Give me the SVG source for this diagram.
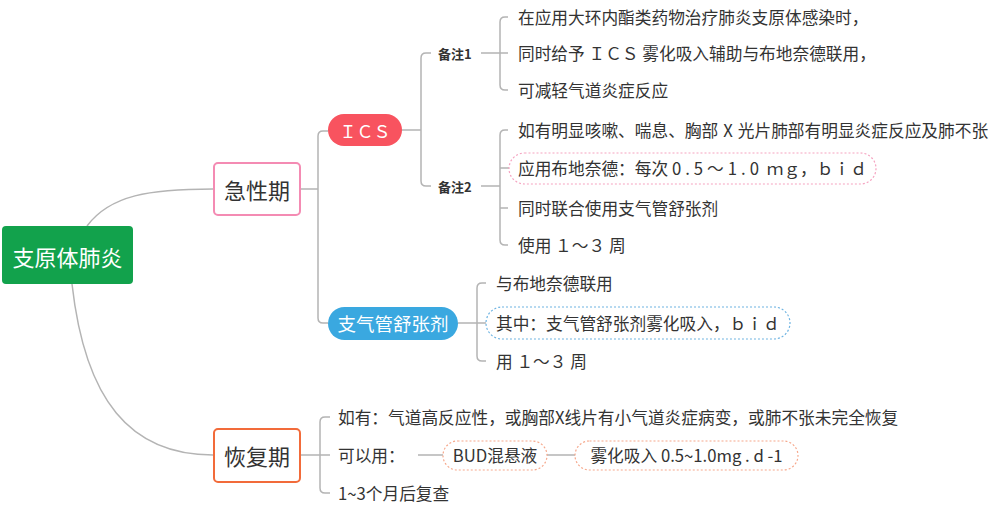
<svg xmlns="http://www.w3.org/2000/svg" width="1000" height="508" viewBox="0 0 1000 508">
<style>
text{font-family:"Noto Sans CJK SC","Microsoft YaHei",sans-serif;dominant-baseline:central}
.leaf{font-size:16.7px;fill:#333}
.note{font-size:13px;font-weight:bold;fill:#333}
.main{font-size:22px;fill:#333;text-anchor:middle}
.wh{fill:#fff;text-anchor:middle}
.ln{fill:none;stroke:#b4b4b4;stroke-width:1.5}
.dpk{fill:#fff;stroke:#f5a3c0;stroke-width:1.2;stroke-dasharray:2 2}
.dbl{fill:#fff;stroke:#6fb4e2;stroke-width:1.2;stroke-dasharray:2 2}
.dor{fill:#fff;stroke:#f6a88c;stroke-width:1.2;stroke-dasharray:2 2}
</style>
<rect width="1000" height="508" fill="#fff"/>
<g id="connectors" class="ln">
<path d="M87,226 C110,195 150,189 213,189"/>
<path d="M72,284 C85,400 130,455 213,455"/>
<path d="M300,189 H318 M328,131 H323 Q318,131 318,136 V318 Q318,323 323,323 H328"/>
<path d="M402,130 H421 M431,53 H426 Q421,53 421,58 V181 Q421,186 426,186 H431"/>
<path d="M481,53 H500 M508,17 H505 Q500,17 500,22 V85 Q500,90 505,90 H508 M500,53 H508"/>
<path d="M481,186 H500 M508,130 H505 Q500,130 500,135 V240 Q500,245 505,245 H508 M500,168 H509 M500,208 H508"/>
<path d="M458,323 H477 M486,283 H482 Q477,283 477,288 V356 Q477,361 482,361 H486 M477,323 H486"/>
<path d="M300,455 H320 M330,417 H325 Q320,417 320,422 V488 Q320,493 325,493 H330 M320,455 H330"/>
<path d="M418,455 H443 M547,455 H575"/>
</g>
<g id="root">
<rect x="2" y="226" width="131" height="58" rx="4" fill="#12a24c"/>
<text class="wh" x="67.5" y="256" font-size="22">支原体肺炎</text>
</g>
<g id="acute">
<rect x="214" y="163" width="86" height="52" rx="4" fill="#fff" stroke="#f48bb3" stroke-width="2"/>
<text class="main" x="257" y="189">急性期</text>
</g>
<g id="ics">
<rect x="328" y="114" width="74" height="32" rx="16" fill="#f8535f"/>
<text class="wh" x="365" y="130" font-size="17">ＩＣＳ</text>
</g>
<g id="note1">
<text class="note" x="438" y="53">备注1</text>
</g>
<g id="note1-items">
<text class="leaf" x="518" y="17">在应用大环内酯类药物治疗肺炎支原体感染时，</text>
<text class="leaf" x="518" y="53">同时给予 ＩＣＳ 雾化吸入辅助与布地奈德联用，</text>
<text class="leaf" x="518" y="90">可减轻气道炎症反应</text>
</g>
<g id="note2">
<text class="note" x="438" y="186">备注2</text>
</g>
<g id="note2-items">
<text class="leaf" x="518" y="130">如有明显咳嗽、喘息、胸部<tspan dx="5">X</tspan><tspan dx="5">光片肺部有明显炎症反应及肺不张</tspan></text>
<rect class="dpk" x="509" y="153" width="367" height="31" rx="15.5"/>
<text class="leaf" x="518" y="168">应用布地奈德：每次 <tspan letter-spacing="4">0.5～1.0</tspan> ｍｇ，ｂｉｄ</text>
<text class="leaf" x="518" y="208">同时联合使用支气管舒张剂</text>
<text class="leaf" x="518" y="245">使用 １～３ 周</text>
</g>
<g id="bronchodilator">
<rect x="328" y="307" width="130" height="33" rx="16.5" fill="#3aa8e0"/>
<text class="wh" x="393" y="323" font-size="18.5">支气管舒张剂</text>
</g>
<g id="bronch-items">
<text class="leaf" x="496" y="283">与布地奈德联用</text>
<rect class="dbl" x="486" y="307" width="304" height="32" rx="16"/>
<text class="leaf" x="496" y="323">其中：支气管舒张剂雾化吸入，ｂｉｄ</text>
<text class="leaf" x="496" y="361">用 １～３ 周</text>
</g>
<g id="recovery">
<rect x="214" y="429" width="86" height="53" rx="4" fill="#fff" stroke="#f26b3a" stroke-width="2"/>
<text class="main" x="257" y="455">恢复期</text>
</g>
<g id="recovery-items">
<text class="leaf" x="338" y="417">如有：气道高反应性，或胸部X线片有小气道炎症病变，或肺不张未完全恢复</text>
<text class="leaf" x="338" y="455">可以用：</text>
<text class="leaf" x="338" y="493">1~3个月后复查</text>
</g>
<g id="bud">
<rect class="dor" x="443" y="441" width="104" height="29" rx="14.5"/>
<text class="leaf" x="495" y="455" text-anchor="middle">BUD混悬液</text>
</g>
<g id="dose">
<rect class="dor" x="575" y="441" width="223" height="29" rx="14.5"/>
<text class="leaf" x="686.5" y="455" text-anchor="middle">雾化吸入 0.5~1.0mg . d -1</text>
</g>
</svg>
